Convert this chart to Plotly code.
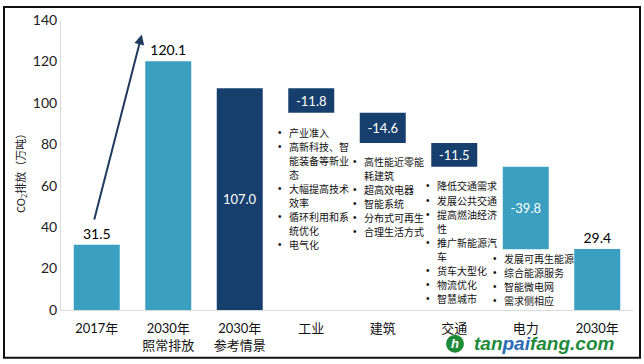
import plotly.graph_objects as go

categories = ["2017年", "2030年<br>照常排放", "2030年<br>参考情景", "工业", "建筑", "交通", "电力", "2030年"]
totals = {"2017年": 31.5, "2030年<br>照常排放": 120.1, "2030年<br>参考情景": 107.0, "2030年": 29.4}
reductions = {"工业": -11.8, "建筑": -14.6, "交通": -11.5, "电力": -39.8}
bar_kinds = ["outside", "outside", "inside", "inside", "inside", "inside", "inside", "outside"]
bar_colors = ["#3A9FC0", "#3A9FC0", "#173F6E", "#173F6E", "#173F6E", "#173F6E", "#3A9FC0", "#3A9FC0"]

bullets = {
    "工业": ["产业准入", "高新科技、智", "能装备等新业", "态", "大幅提高技术", "效率", "循环利用和系", "统优化", "电气化"],
    "建筑": ["高性能近零能", "耗建筑", "超高效电器", "智能系统", "分布式可再生", "合理生活方式"],
    "交通": ["降低交通需求", "发展公共交通", "提高燃油经济", "性", "推广新能源汽", "车", "货车大型化", "物流优化", "智慧城市"],
    "电力": ["发展可再生能源", "综合能源服务", "智能微电网", "需求侧相应"],
}
# which lines start a new bullet
bullet_starts = {
    "工业": [1, 1, 0, 0, 1, 0, 1, 0, 1],
    "建筑": [1, 0, 1, 1, 1, 1],
    "交通": [1, 1, 1, 0, 1, 0, 1, 1, 1],
    "电力": [1, 1, 1, 1],
}

# compute waterfall bars
heights, bases, labels = [], [], []
running = 0.0
for c in categories:
    if c in totals:
        v = totals[c]
        heights.append(v)
        bases.append(0)
        labels.append(f"{v:.1f}")
        running = v
    else:
        d = reductions[c]
        heights.append(-d)
        bases.append(running + d)
        labels.append(f"{d:.1f}")
        running = running + d

CJK = "Noto Sans CJK SC"
NUM = "Lato, Noto Sans CJK SC"

fig = go.Figure()
fig.add_trace(go.Bar(
    x=list(range(len(categories))),
    y=heights,
    base=bases,
    marker=dict(color=bar_colors, line=dict(width=0)),
    text=labels,
    textposition=bar_kinds,
    insidetextanchor="middle",
    insidetextfont=dict(color="white", size=13, family=NUM),
    outsidetextfont=dict(color="black", size=14, family=NUM),
    constraintext="none",
    cliponaxis=False,
    hoverinfo="skip",
))

# bullet text blocks (one annotation per line); position = left edge of text, first line centre
block_pos = {"工业": (2.657, 85.8), "建筑": (3.706, 71.9), "交通": (4.727, 59.9), "电力": (5.664, 24.9)}
line_step = 6.8    # data units between lines
bullet_gap = 0.10  # category units from bullet centre to text start
for k, lines in bullets.items():
    x0, y0 = block_pos[k]
    for i, (l, s) in enumerate(zip(lines, bullet_starts[k])):
        yy = y0 - i * line_step
        fig.add_annotation(x=x0, y=yy, xref="x", yref="y", text=l, showarrow=False,
                           xanchor="left", yanchor="middle", align="left",
                           font=dict(size=10, family=CJK, color="#111111"))
        if s:
            fig.add_annotation(x=x0 - bullet_gap, y=yy, xref="x", yref="y", text="•", showarrow=False,
                               xanchor="center", yanchor="middle",
                               font=dict(size=10, family="Liberation Sans", color="#111111"))

# growth arrow
fig.add_annotation(x=0.63, y=133, ax=-0.04, ay=43, xref="x", yref="y", axref="x", ayref="y",
                   text="", showarrow=True, arrowhead=2, arrowsize=1, arrowwidth=2,
                   arrowcolor="#1F3A5F")

# y-axis title
fig.add_annotation(x=-0.070, y=0.483, xref="paper", yref="paper",
                   text="CO<sub>2</sub>排放（万吨）", textangle=-90, showarrow=False,
                   xanchor="center", yanchor="middle",
                   font=dict(size=11, family=CJK, color="#222222"))

# watermark
fig.add_shape(type="circle", xref="paper", yref="paper",
              x0=(446 - 61) / 572, x1=(464 - 61) / 572, y0=(310 - 353) / 292, y1=(310 - 335) / 292,
              fillcolor="#1E8B3A", line=dict(width=0))
fig.add_annotation(x=(455 - 61) / 572, y=(310 - 344) / 292, xref="paper", yref="paper",
                   text="<b><i>h</i></b>", showarrow=False, xanchor="center", yanchor="middle",
                   font=dict(size=13, color="white", family="Liberation Sans"))
fig.add_annotation(x=(472 - 61) / 572, y=(310 - 344) / 292, xref="paper", yref="paper",
                   text="<b><i><span style='color:#1E8B3A'>tan</span><span style='color:#2A6CB5'>pai</span><span style='color:#1E8B3A'>fang.com</span></i></b>",
                   showarrow=False, xanchor="left", yanchor="middle",
                   font=dict(size=19, family="Liberation Sans", color="#1E8B3A"))

# outer frame
fig.add_shape(type="rect", xref="paper", yref="paper",
              x0=(4 - 61) / 572, x1=(640 - 61) / 572, y0=(310 - 358) / 292, y1=(310 - 5) / 292,
              line=dict(color="#111111", width=2), fillcolor="rgba(0,0,0,0)")

fig.update_layout(
    width=644, height=364,
    margin=dict(l=61, r=11, t=18, b=54),
    paper_bgcolor="white", plot_bgcolor="white",
    showlegend=False, bargap=0.357,
    font=dict(family=NUM, color="#111111"),
)
fig.update_xaxes(tickmode="array", tickvals=list(range(len(categories))), ticktext=categories,
                 range=[-0.5, len(categories) - 0.5],
                 showline=True, linecolor="#D9D9D9", linewidth=1, showgrid=False, ticks="",
                 ticklabelstandoff=6,
                 tickfont=dict(size=13, family=NUM, color="#111111"))
fig.update_yaxes(range=[0, 140], dtick=20, showline=True, linecolor="#D9D9D9", linewidth=1,
                 showgrid=False, ticks="", zeroline=False,
                 tickfont=dict(size=14, family=NUM, color="#222222"))

fig.write_html("out.html", config={"displayModeBar": False},
               post_script="document.body.style.margin='0px';document.body.style.overflow='hidden';")
